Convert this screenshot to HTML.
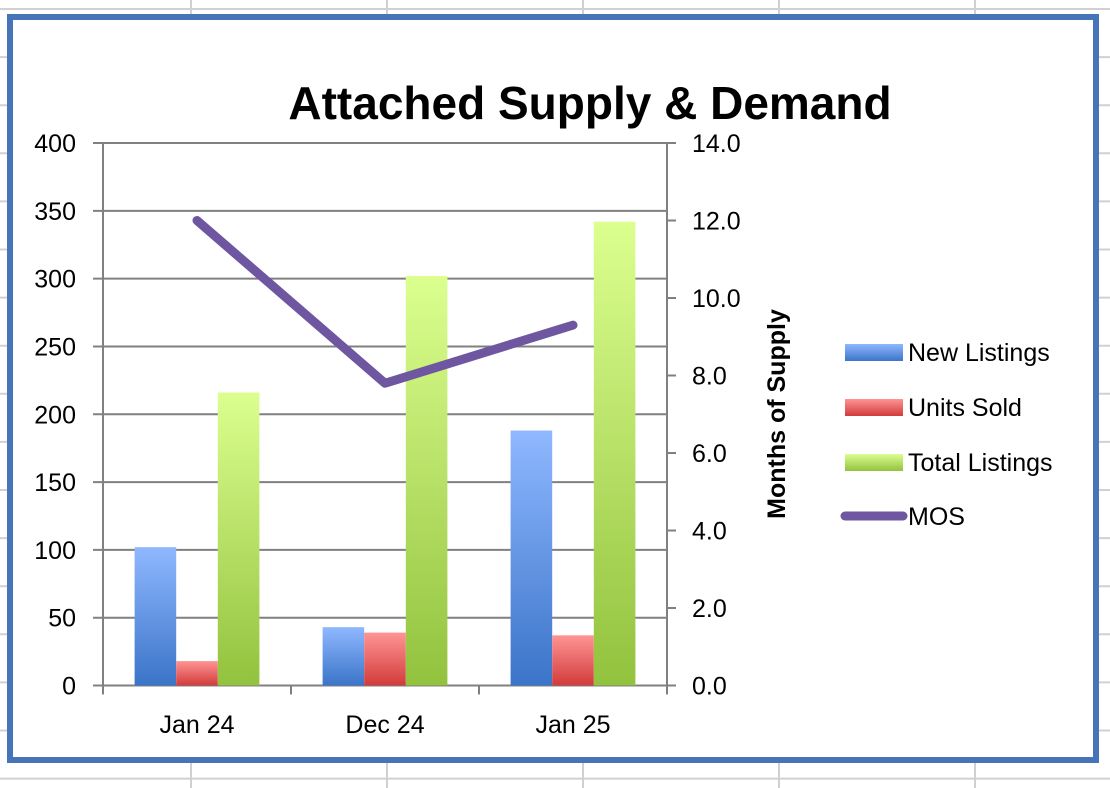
<!DOCTYPE html>
<html><head><meta charset="utf-8"><style>
html,body{margin:0;padding:0;background:#fff;}
svg{display:block;font-family:"Liberation Sans",sans-serif;}
</style></head><body>
<svg id="chart" width="1110" height="788" viewBox="0 0 1110 788">
<defs>
<linearGradient id="gBlue" x1="0" y1="0" x2="0" y2="1"><stop offset="0" stop-color="#8fb8ff"/><stop offset="1" stop-color="#3b74c8"/></linearGradient>
<linearGradient id="gRed" x1="0" y1="0" x2="0" y2="1"><stop offset="0" stop-color="#ff9494"/><stop offset="1" stop-color="#d23b3b"/></linearGradient>
<linearGradient id="gGreen" x1="0" y1="0" x2="0" y2="1"><stop offset="0" stop-color="#dcff8f"/><stop offset="1" stop-color="#92c23e"/></linearGradient>
</defs>
<g id="sheet"></g>
<rect x="10" y="17" width="1086" height="743" fill="#fff" stroke="#4674b8" stroke-width="6"/>
<text x="590" y="119" text-anchor="middle" font-size="46" font-weight="bold">Attached Supply &amp; Demand</text>
<g id="grid"></g>
<g id="bars"></g>
<g id="axes"></g>
<g id="line"></g>
<text transform="translate(785,414) rotate(-90)" text-anchor="middle" font-size="25" font-weight="bold">Months of Supply</text>
<g font-size="25">
<g><rect x="845" y="344" width="58" height="17" fill="url(#gBlue)"/><text x="908" y="361">New Listings</text></g>
<g><rect x="845" y="399" width="58" height="17" fill="url(#gRed)"/><text x="908" y="416">Units Sold</text></g>
<g><rect x="845" y="454" width="58" height="17" fill="url(#gGreen)"/><text x="908" y="471">Total Listings</text></g>
<g><line x1="845" y1="516" x2="903" y2="516" stroke="#6f56a0" stroke-width="9" stroke-linecap="round"/><text x="908" y="525">MOS</text></g>
</g>
</svg>
<script>
const categories=["Jan 24","Dec 24","Jan 25"];
const newListings=[102,43,188];
const unitsSold=[18,39,37];
const totalListings=[216,302,342];
const mos=[12.0,7.8,9.3];
const leftTicks=["0","50","100","150","200","250","300","350","400"];
const rightTicks=["0.0","2.0","4.0","6.0","8.0","10.0","12.0","14.0"];
const NS="http://www.w3.org/2000/svg";
const X0=103,X1=667,Y0=685.5,Y1=143;
const catW=(X1-X0)/categories.length;
const yL=v=>Y0-(v/400)*(Y0-Y1);
const yR=v=>Y0-(v/14)*(Y0-Y1);
const xC=i=>X0+catW*(i+0.5);
function mk(t,a,p){const e=document.createElementNS(NS,t);for(const k in a)e.setAttribute(k,a[k]);p.appendChild(e);return e;}
const sheet=document.getElementById('sheet');
for(let y=9;y<788;y+=48.1){const l=mk('line',{x1:0,x2:1110,y1:y,y2:y,stroke:'#d0d0d0','stroke-width':2},sheet);}
for(let x=191;x<1110;x+=196){const l=mk('line',{x1:x,x2:x,y1:0,y2:788,stroke:'#d0d0d0','stroke-width':2},sheet);}
const grid=document.getElementById('grid');
leftTicks.forEach(t=>{const v=+t;const y=yL(v);
 const l=mk('line',{x1:93,x2:X1,y1:y,y2:y,stroke:'#808080','stroke-width':2},grid);
 
 const tx=mk('text',{x:76,y:y+9,'text-anchor':'end','font-size':25},grid);tx.textContent=t;
 });
const axes=document.getElementById('axes');
mk('line',{x1:X0,x2:X0,y1:Y1,y2:Y0+9,stroke:'#808080','stroke-width':2},axes);
mk('line',{x1:X1,x2:X1,y1:Y1,y2:Y0,stroke:'#808080','stroke-width':2},axes);
rightTicks.forEach(t=>{const y=yR(+t);
 mk('line',{x1:X1,x2:X1+9,y1:y,y2:y,stroke:'#808080','stroke-width':2},axes);
 const tx=mk('text',{x:692,y:y+9,'font-size':25},axes);tx.textContent=t;
 });
for(let i=0;i<=categories.length;i++){const x=X0+catW*i;mk('line',{x1:x,x2:x,y1:Y0,y2:Y0+9,stroke:'#808080','stroke-width':2},axes);}
categories.forEach((c,i)=>{const tx=mk('text',{x:xC(i),y:733,'text-anchor':'middle','font-size':25},axes);tx.textContent=c;
 });
const bars=document.getElementById('bars');
const bw=41.6;const series=[[newListings,'url(#gBlue)','bar-new-listings'],[unitsSold,'url(#gRed)','bar-units-sold'],[totalListings,'url(#gGreen)','bar-total-listings']];
categories.forEach((c,i)=>{series.forEach((s,j)=>{const x=xC(i)-1.5*bw+j*bw;const y=yL(s[0][i]);
 const r=mk('rect',{x:x,y:y,width:bw,height:Y0-y,fill:s[1]},bars);
 });});
const line=document.getElementById('line');
const pl=mk('polyline',{points:mos.map((v,i)=>xC(i)+','+yR(v)).join(' '),fill:'none',stroke:'#6f56a0','stroke-width':9,'stroke-linecap':'round','stroke-linejoin':'round'},line);

</script>
</body></html>
